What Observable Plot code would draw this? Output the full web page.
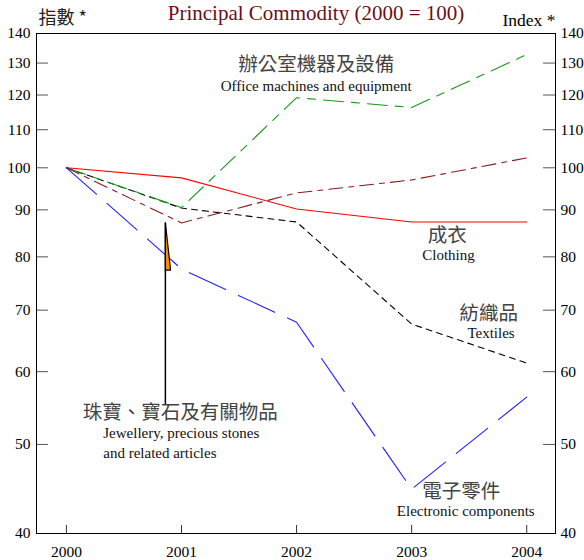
<!DOCTYPE html>
<html>
<head>
<meta charset="utf-8">
<script src="https://cdn.jsdelivr.net/npm/d3@7"></script>
<script src="https://cdn.jsdelivr.net/npm/@observablehq/plot@0.6"></script>
<style>
  html, body { margin: 0; padding: 0; background: #fff; }
  svg { display: block; }
</style>
</head>
<body>
<div id="chart"></div>
<script>
const years = [2000, 2001, 2002, 2003, 2004];
const clothing = [100, 97.5, 90.2, 87.3, 87.3];
const textiles = [100, 90.4, 87.3, 67.6, 61.3];
const office = [100, 90.5, 119.2, 116.3, 132.8];
const jewellery = [100, 87.1, 93.9, 97.0, 102.5];
const electronic = [100, 77.6, 67.9, 44.7, 56.3];
const yTicks = [40, 50, 60, 70, 80, 90, 100, 110, 120, 130, 140];

const title = "Principal Commodity (2000 = 100)";
const leftAxisTitle = "指數 *";
const rightAxisTitle = "Index *";

// annotation pointer (year, index)
const pointerLine = [{x: 2000.86, y: 87.1}, {x: 2000.86, y: 55.3}];
const pointerFlag = [{x: 2000.86, y: 87.1}, {x: 2000.86, y: 77.4}, {x: 2000.905, y: 77.4}, {x: 2000.86, y: 87.1}];

// series labels (year, index)
const cnLabels = [
  {x: 2002.17, y: 129.3, text: "辦公室機器及設備"},
  {x: 2003.31, y: 84.3, text: "成衣"},
  {x: 2003.67, y: 69.3, text: "紡織品"},
  {x: 2000.99, y: 54.1, text: "珠寶、寶石及有關物品"},
  {x: 2003.43, y: 44.4, text: "電子零件"}
];
const enLabels = [
  {x: 2002.17, y: 122.6, text: "Office machines and equipment", anchor: "middle"},
  {x: 2003.32, y: 80.4, text: "Clothing", anchor: "middle"},
  {x: 2003.69, y: 66.1, text: "Textiles", anchor: "middle"},
  {x: 2000.32, y: 51.4, text: "Jewellery, precious stones", anchor: "start"},
  {x: 2000.32, y: 48.9, text: "and related articles", anchor: "start"},
  {x: 2003.47, y: 42.3, text: "Electronic components", anchor: "middle"}
];

const toRows = (vals) => years.map((yr, i) => ({x: yr, y: vals[i]}));

const serif = "'Liberation Serif', 'Times New Roman', serif";
const cjk = "'Noto Sans CJK TC', 'Noto Sans CJK SC', sans-serif";

const chart = Plot.plot({
  width: 584,
  height: 560,
  marginTop: 33,
  marginBottom: 27,
  marginLeft: 36,
  marginRight: 29,
  style: {fontFamily: serif, fontSize: "15px", color: "#000", background: "#fff"},
  x: {domain: [1999.74, 2004.25], label: null},
  y: {type: "log", domain: [40, 140], label: null},
  marks: [
    // inward ticks
    Plot.tickY(yTicks, {y: d => d, stroke: "#555", insetRight: 507}),
    Plot.tickY(yTicks, {y: d => d, stroke: "#555", insetLeft: 507}),
    Plot.tickX(years, {x: d => d, stroke: "#333", insetTop: 492}),
    Plot.axisY({anchor: "left", ticks: yTicks, tickSize: 0, tickPadding: 6, tickFormat: d => String(d), fontSize: 15.5}),
    Plot.axisY({anchor: "right", ticks: yTicks, tickSize: 0, tickPadding: 5, tickFormat: d => String(d), fontSize: 15.5}),
    Plot.axisX({ticks: years, tickSize: 0, tickPadding: 12, tickFormat: d3.format("d"), fontSize: 15.5}),
    // series
    Plot.line(toRows(clothing), {x: "x", y: "y", stroke: "#ff0000", strokeWidth: 1.1}),
    Plot.line(toRows(textiles), {x: "x", y: "y", stroke: "#000", strokeWidth: 1.1, strokeDasharray: "6,5"}),
    Plot.line(toRows(office), {x: "x", y: "y", stroke: "#1a961a", strokeWidth: 1.1, strokeDasharray: "20,8,8,8"}),
    Plot.line(toRows(jewellery), {x: "x", y: "y", stroke: "#8b1a1a", strokeWidth: 1.1, strokeDasharray: "14,6,5,6"}),
    Plot.line(toRows(electronic), {x: "x", y: "y", stroke: "#1f1fff", strokeWidth: 1.1, strokeDasharray: "40,14"}),
    // pointer
    Plot.line(pointerLine, {x: "x", y: "y", stroke: "#000", strokeWidth: 1.5}),
    Plot.line(pointerFlag, {x: "x", y: "y", stroke: "#000", strokeWidth: 1.2, fill: "#ff8c00"}),
    // labels
    Plot.text(cnLabels, {x: "x", y: "y", text: "text", textAnchor: "middle", fontFamily: cjk, fontSize: 19.5, fill: "#444"}),
    Plot.text(enLabels.filter(d => d.anchor === "middle"), {x: "x", y: "y", text: "text", textAnchor: "middle", fontFamily: serif, fontSize: 15, fill: "#111"}),
    Plot.text(enLabels.filter(d => d.anchor === "start"), {x: "x", y: "y", text: "text", textAnchor: "start", fontFamily: serif, fontSize: 15, fill: "#111"}),
    // titles
    Plot.text([title], {frameAnchor: "top", lineAnchor: "middle", dx: 20, dy: -20, fontFamily: serif, fontSize: 21, fill: "#6b0f1a"}),
    Plot.text([leftAxisTitle], {frameAnchor: "top-left", lineAnchor: "middle", textAnchor: "start", dx: 2, dy: -15, fontFamily: cjk, fontSize: 18, fill: "#222"}),
    Plot.text([rightAxisTitle], {frameAnchor: "top-right", lineAnchor: "middle", textAnchor: "end", dx: 0, dy: -13, fontFamily: serif, fontSize: 17.5, fill: "#000"}),
    Plot.frame({stroke: "#000"})
  ]
});
document.getElementById("chart").appendChild(chart);
</script>
</body>
</html>
